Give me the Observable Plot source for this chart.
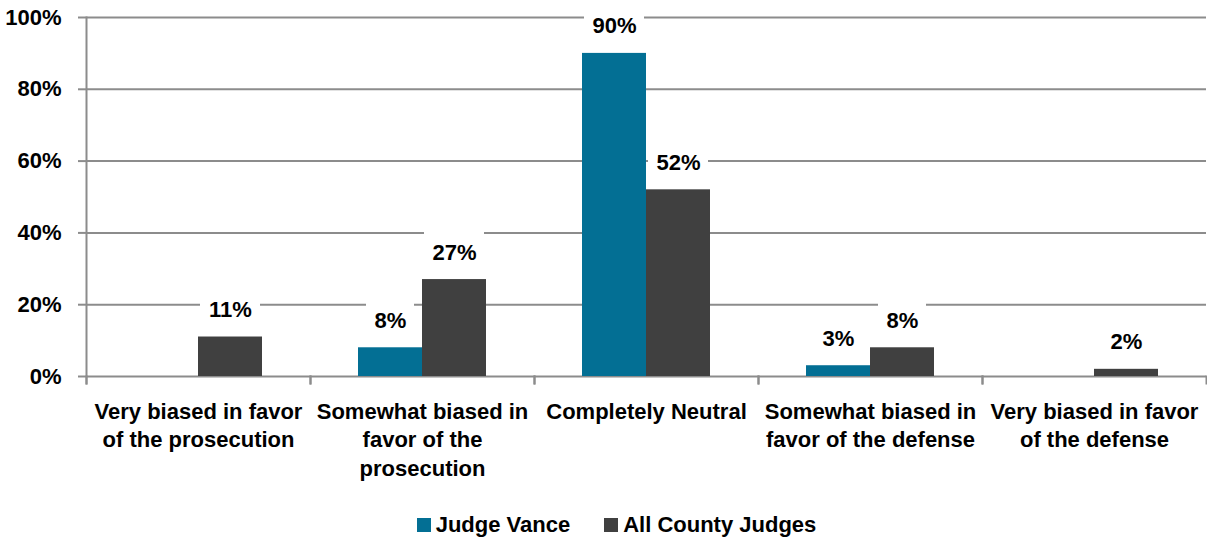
<!DOCTYPE html>
<html>
<head>
<meta charset="utf-8">
<script src="https://cdn.jsdelivr.net/npm/d3@7"></script>
<script src="https://cdn.jsdelivr.net/npm/@observablehq/plot@0.6"></script>
<style>
  html, body { margin: 0; padding: 0; background: #fff; }
  body { width: 1207px; height: 544px; overflow: hidden;
         font-family: "Liberation Sans", Arial, sans-serif; }
  #legend { display: flex; justify-content: center; align-items: center; height: 44px;
            font-size: 22px; font-weight: bold; color: #000; padding-left: 26px; padding-top: 5px; box-sizing: border-box; }
  .item { display: flex; align-items: center; margin: 0 17px; }
  .sw { width: 14px; height: 14px; margin-right: 5px; }
</style>
</head>
<body>
<div id="chart"></div>
<div id="legend"></div>
<script>
const categories = [
  "Very biased in favor of the prosecution",
  "Somewhat biased in favor of the prosecution",
  "Completely Neutral",
  "Somewhat biased in favor of the defense",
  "Very biased in favor of the defense"
];
const tickLabels = [
  "Very biased in favor\nof the prosecution",
  "Somewhat biased in\nfavor of the\nprosecution",
  "Completely Neutral",
  "Somewhat biased in\nfavor of the defense",
  "Very biased in favor\nof the defense"
];
const series = ["Judge Vance", "All County Judges"];
const judgeVance = [0, 8, 90, 3, 0];
const allCountyJudges = [11, 27, 52, 8, 2];
const colors = ["#036f94", "#404040"];
const yTicks = [0, 20, 40, 60, 80, 100];

const FONT = '"Liberation Sans", Arial, sans-serif';
const GRID = "#8c8c8c";

const data = categories.flatMap((c, i) => [
  {category: c, series: series[0], value: judgeVance[i]},
  {category: c, series: series[1], value: allCountyJudges[i]}
]);
const labeled = data.filter(d => d.value > 0);

const chart = Plot.plot({
  width: 1207,
  height: 500,
  marginTop: 17,
  marginBottom: 124,
  marginLeft: 85,
  marginRight: 1,
  style: {fontFamily: FONT, fontSize: "22px", fontWeight: "bold", color: "#000", background: "#fff"},
  fx: {domain: categories, padding: 0, label: null, axis: null},
  x: {domain: series, paddingInner: 0, paddingOuter: 0.75, axis: null},
  y: {domain: [0, 100], axis: null},
  color: {domain: series, range: colors},
  marks: [
    Plot.gridY(yTicks, {stroke: GRID, strokeOpacity: 1, strokeWidth: 2}),
    Plot.axisY({ticks: yTicks, tickSize: 8, tickPadding: 17, tickFormat: d => d + "%",
      stroke: GRID, strokeWidth: 2, label: null, fontSize: 22, fontWeight: "bold", fill: "#000"}),
    Plot.frame({anchor: "left", fx: () => categories[0], stroke: GRID, strokeWidth: 2, insetBottom: -7}),
    Plot.frame({anchor: "left", stroke: GRID, strokeWidth: 2, insetTop: 359, insetBottom: -7}),
    Plot.frame({anchor: "right", stroke: GRID, strokeWidth: 2, insetTop: 359, insetBottom: -7}),
    Plot.barY(labeled.filter(d => d.value >= 10), {fx: "category", x: "series", y1: "value", y2: "value",
      fill: "white", insetTop: -38, dy: -13, insetLeft: 2, insetRight: 2}),
    Plot.barY(labeled.filter(d => d.value < 10), {fx: "category", x: "series", y1: "value", y2: "value",
      fill: "white", insetTop: -38, dy: -13, insetLeft: 8, insetRight: 8}),
    Plot.barY(data, {fx: "category", x: "series", y: "value", fill: "series"}),
    Plot.text(labeled, {fx: "category", x: "series", y: "value", text: d => d.value + "%",
      dy: -27, fontSize: 22, fontWeight: "bold", fill: "#000"}),
    Plot.axisFx({anchor: "bottom", tickSize: 0, tickPadding: 22, label: null, lineHeight: 1.3,
      tickFormat: d => tickLabels[categories.indexOf(d)], fontSize: 22, fontWeight: "bold", fill: "#000"})
  ]
});
document.getElementById("chart").appendChild(chart);

const legend = document.getElementById("legend");
series.forEach((s, i) => {
  const item = document.createElement("div");
  item.className = "item";
  const sw = document.createElement("span");
  sw.className = "sw";
  sw.style.background = colors[i];
  const t = document.createElement("span");
  t.textContent = s;
  item.appendChild(sw);
  item.appendChild(t);
  legend.appendChild(item);
});
</script>
</body>
</html>
